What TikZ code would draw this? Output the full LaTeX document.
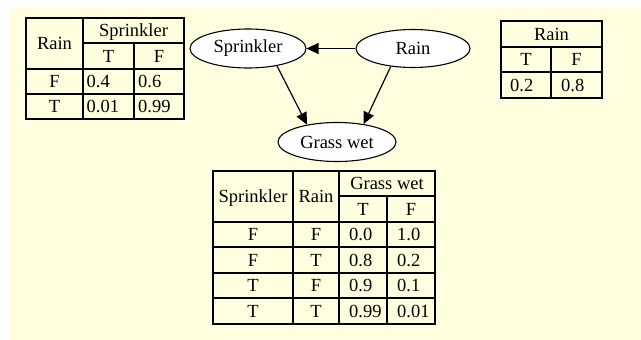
\documentclass[tikz,border=0pt]{standalone}
\usepackage{fontspec}
\setmainfont{Liberation Serif}
\usetikzlibrary{arrows.meta,shapes.geometric}
\definecolor{bgyellow}{RGB}{255,255,224}
\begin{document}
\begin{tikzpicture}[x=1pt,y=-1pt,
  txt/.style={inner sep=0pt, font=\fontsize{18.5}{20}\selectfont, anchor=base},
  ltxt/.style={txt, anchor=base west},
  gridline/.style={line width=1.9pt},
  bn/.style={ellipse, draw, line width=1.1pt, fill=white, inner sep=0pt, font=\fontsize{18.5}{20}\selectfont},
  edge/.style={line width=1.2pt, -{Triangle[length=12pt,width=11pt]}}]
\useasboundingbox (0,0) rectangle (641,340);
\fill[bgyellow] (10,7) rectangle (641,340);

% Table 1: P(Sprinkler | Rain)
\draw[gridline] (26,18) rectangle (184,119);
\draw[gridline] (83,18) -- (83,119);
\draw[gridline] (134,43) -- (134,119);
\draw[gridline] (83,43) -- (184,43);
\draw[gridline] (26,69) -- (184,69);
\draw[gridline] (26,94) -- (184,94);
\node[txt] (t1rain) at (54.5,49) {Rain};
\node[txt] (t1spr) at (133.5,37) {Sprinkler};
\node[txt] (t1t) at (108.5,62) {T};
\node[txt] (t1f) at (159,62) {F};
\node[txt] (t1r1) at (54.5,87.5) {F};
\node[ltxt] (t1r1a) at (86.5,87.5) {0.4};
\node[ltxt] (t1r1b) at (138,87.5) {0.6};
\node[txt] (t1r2) at (54.5,112.5) {T};
\node[ltxt] (t1r2a) at (86.5,112.5) {0.01};
\node[ltxt] (t1r2b) at (138,112.5) {0.99};

% Table 2: P(Rain)
\draw[gridline] (501,21) rectangle (602,98);
\draw[gridline] (551,47) -- (551,98);
\draw[gridline] (501,47) -- (602,47);
\draw[gridline] (501,72) -- (602,72);
\node[txt] (t2rain) at (551.5,40) {Rain};
\node[txt] (t2t) at (526,65.5) {T};
\node[txt] (t2f) at (576.5,65.5) {F};
\node[ltxt] (t2a) at (510,91) {0.2};
\node[ltxt] (t2b) at (561,91) {0.8};

% Table 3: P(Grass wet | Sprinkler, Rain)
\draw[gridline] (213,171) rectangle (435,324);
\draw[gridline] (293,171) -- (293,324);
\draw[gridline] (339,171) -- (339,324);
\draw[gridline] (387,196) -- (387,324);
\draw[gridline] (339,196) -- (435,196);
\foreach \yy in {222,247,273,298} {\draw[gridline] (213,\yy) -- (435,\yy);}
\node[txt] (t3spr) at (253,202.5) {Sprinkler};
\node[txt] (t3rain) at (316,202.5) {Rain};
\node[txt] (t3gw) at (387,189.5) {Grass wet};
\node[txt] (t3t) at (363,215) {T};
\node[txt] (t3f) at (411,215) {F};
\node[txt] (r1s) at (253,240.5) {F};
\node[txt] (r1r) at (316,240.5) {F};
\node[ltxt] (r1a) at (349,240.5) {0.0};
\node[ltxt] (r1b) at (397,240.5) {1.0};
\node[txt] (r2s) at (253,266) {F};
\node[txt] (r2r) at (316,266) {T};
\node[ltxt] (r2a) at (349,266) {0.8};
\node[ltxt] (r2b) at (397,266) {0.2};
\node[txt] (r3s) at (253,291.5) {T};
\node[txt] (r3r) at (316,291.5) {F};
\node[ltxt] (r3a) at (349,291.5) {0.9};
\node[ltxt] (r3b) at (397,291.5) {0.1};
\node[txt] (r4s) at (253,317) {T};
\node[txt] (r4r) at (316,317) {T};
\node[ltxt] (r4a) at (349,317) {0.99};
\node[ltxt] (r4b) at (397,317) {0.01};

% Network
\node[bn, minimum width=116pt, minimum height=39pt] (spr) at (248,48.5) {Sprinkler};
\node[bn, minimum width=114pt, minimum height=38pt] (rain) at (413,48.5) {Rain};
\node[bn, minimum width=118pt, minimum height=39pt] (gw) at (337,142) {Grass wet};
\draw[edge] (rain.west) -- (spr.east);
\draw[edge] (spr.-31) -- (gw.150);
\draw[edge] (rain.-141) -- (gw.34);
\end{tikzpicture}
\end{document}
